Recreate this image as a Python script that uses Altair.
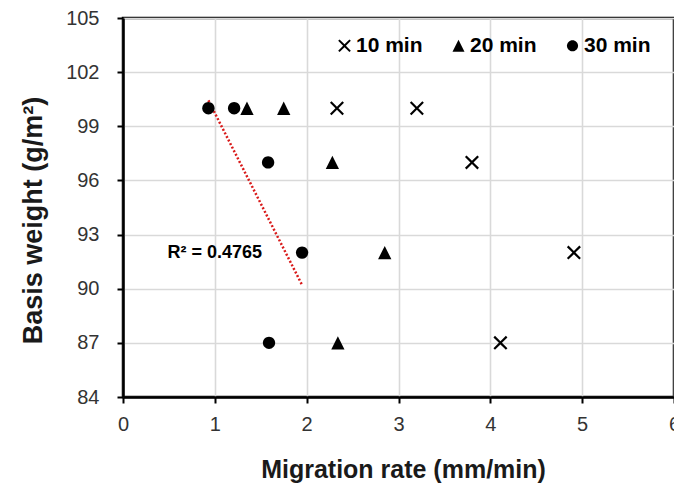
import altair as alt
import pandas as pd

# ---- data ----
series_names = ["10 min", "20 min", "30 min"]
basis_weight = [100, 100, 97, 92, 87]
rate_10 = [2.33, 3.20, 3.80, 4.91, 4.11]
rate_20 = [1.35, 1.75, 2.28, 2.85, 2.34]
rate_30 = [0.93, 1.21, 1.58, 1.95, 1.59]

r2_x = [1.0]
r2_y = [92]
r2_text = ["R² = 0.4765"]

x_ticks = [0, 1, 2, 3, 4, 5, 6]
y_ticks = [84, 87, 90, 93, 96, 99, 102, 105]

rows = []
for name, rates in zip(series_names, [rate_10, rate_20, rate_30]):
    for r, w in zip(rates, basis_weight):
        rows.append({"rate": r, "weight": w, "series": name})
df = pd.DataFrame(rows)
df_r2 = pd.DataFrame({"x": r2_x, "y": r2_y, "t": r2_text})

FONT = "Liberation Sans"

cross_path = "M-1,-0.78L-0.78,-1L0,-0.22L0.78,-1L1,-0.78L0.22,0L1,0.78L0.78,1L0,0.22L-0.78,1L-1,0.78L-0.22,0Z"
tri_path = "M0,-0.95L0.95,0.95L-0.95,0.95Z"
circ_path = "M0.88,0A0.88,0.88,0,1,1,-0.88,0A0.88,0.88,0,1,1,0.88,0Z"

x_scale = alt.Scale(domain=[0, 6], nice=False, zero=False)
y_scale = alt.Scale(domain=[84, 105], nice=False, zero=False)

x_axis = alt.Axis(
    values=x_ticks, format="d", title="Migration rate (mm/min)", grid=True,
    labelFlush=False,
    titleBaseline="alphabetic", titleY=80, titleX=280,
)
y_axis = alt.Axis(
    values=y_ticks, format="d", title="Basis weight (g/m²)", grid=True,
    labelFlush=False,
    titleBaseline="alphabetic", titleX=-82, titleY=202, titleAngle=-90,
    titleFontSize=27,
)

points = alt.Chart(df).mark_point(
    filled=True, color="black", opacity=1, size=196, strokeWidth=0
).encode(
    x=alt.X("rate:Q", scale=x_scale, axis=x_axis),
    y=alt.Y("weight:Q", scale=y_scale, axis=y_axis),
    shape=alt.Shape(
        "series:N",
        scale=alt.Scale(domain=series_names, range=[cross_path, tri_path, circ_path]),
        legend=alt.Legend(
            title=None, orient="none", direction="horizontal",
            legendX=211, legendY=17,
        ),
    ),
)

trend = alt.Chart(df).transform_filter(
    alt.datum.series == "30 min"
).transform_regression("rate", "weight").mark_line(
    color="#d91a1a", strokeDash=[2, 2], strokeWidth=2.5
).encode(
    x=alt.X("rate:Q", scale=x_scale),
    y=alt.Y("weight:Q", scale=y_scale),
)

r2 = alt.Chart(df_r2).mark_text(
    font=FONT, fontSize=18, fontWeight="bold", color="black", align="center", baseline="middle"
).encode(
    x=alt.X("x:Q", scale=x_scale),
    y=alt.Y("y:Q", scale=y_scale),
    text="t:N",
)

chart = alt.layer(trend, points, r2).properties(
    width=551, height=379,
    autosize=alt.AutoSizeParams(type="none"),
    padding={"left": 123, "top": 18, "right": 0, "bottom": 90},
    background="white",
).configure_view(
    stroke="black", strokeWidth=2.5
).configure_axis(
    labelFont=FONT, labelFontSize=20, labelColor="#333333",
    titleFont=FONT, titleFontSize=25, titleFontWeight="bold", titleColor="#1a1a1a",
    gridColor="#d9d9d9", gridWidth=1.6,
    domainColor="black", domainWidth=2.5,
    tickColor="black", tickWidth=2, tickSize=6,
).configure_axisX(
    labelPadding=11
).configure_axisY(
    labelPadding=18
).configure_legend(
    labelFont=FONT, labelFontSize=21, labelFontWeight="bold", labelColor="black",
    symbolSize=160, symbolFillColor="black", symbolStrokeWidth=0, symbolOpacity=1,
    columnPadding=25, labelOffset=1, padding=0,
)

chart.save("out.html", embed_options={"renderer": "svg", "actions": False})
